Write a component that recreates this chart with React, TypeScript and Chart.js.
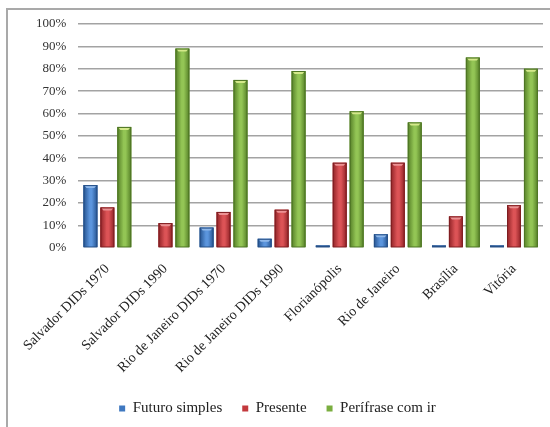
import React, { useEffect, useRef } from "react";
import { Chart, registerables } from "chart.js";

Chart.register(...registerables);

const categories = [
  "Salvador DIDs 1970",
  "Salvador DIDs 1990",
  "Rio de Janeiro DIDs 1970",
  "Rio de Janeiro DIDs 1990",
  "Florianópolis",
  "Rio de Janeiro",
  "Brasília",
  "Vitória",
];
const futuroSimples: (number | null)[] = [28, null, 9, 4, 1, 6, 1, 1];
const presente = [18, 11, 16, 17, 38, 38, 14, 19];
const perifrase = [54, 89, 75, 79, 61, 56, 85, 80];
const yTicks = [0, 10, 20, 30, 40, 50, 60, 70, 80, 90, 100];

const palette = [
  { base: "#3f78c0", dark: "#24528f", light: "#5b95dd", cap: "#8fb8ea", border: "#254f86" },
  { base: "#c3393d", dark: "#8f2226", light: "#dc5356", cap: "#ec9294", border: "#7e1e21" },
  { base: "#7aae3f", dark: "#557f27", light: "#93c555", cap: "#d4e98a", border: "#4d7424" },
];

const gradientBars = {
  id: "gradientBars",
  afterDatasetDraw(chart: any, args: any) {
    const ctx = chart.ctx;
    const meta = args.meta;
    const p = palette[args.index];
    ctx.save();
    meta.data.forEach((el: any) => {
      const { x, y, base, width } = el.getProps(["x", "y", "base", "width"], true);
      if (y == null || isNaN(y) || Math.abs(base - y) < 0.5) return;
      const left = x - width / 2;
      const top = Math.min(y, base);
      const h = Math.abs(base - y);
      const g = ctx.createLinearGradient(left, 0, left + width, 0);
      g.addColorStop(0, p.dark);
      g.addColorStop(0.45, p.light);
      g.addColorStop(0.6, p.light);
      g.addColorStop(1, p.dark);
      ctx.fillStyle = g;
      ctx.fillRect(left, top, width, h);
      const capH = Math.min(3, h / 2);
      ctx.fillStyle = p.cap;
      ctx.beginPath();
      ctx.moveTo(left + 1, top + 0.5);
      ctx.lineTo(left + width - 1, top + 0.5);
      ctx.lineTo(left + width - 3, top + capH);
      ctx.lineTo(left + 3, top + capH);
      ctx.closePath();
      ctx.fill();
      ctx.strokeStyle = p.border;
      ctx.lineWidth = 1;
      ctx.strokeRect(left + 0.5, top + 0.5, width - 1, h - 0.5);
    });
    ctx.restore();
  },
};

const LEGEND_SHIFT = -6;
const legendShift = {
  id: "legendShift",
  afterLayout(chart: any) {
    if (chart.legend) {
      chart.legend.left += LEGEND_SHIFT;
      chart.legend.right += LEGEND_SHIFT;
    }
  },
};

export default function App() {
  const canvasRef = useRef<HTMLCanvasElement | null>(null);

  useEffect(() => {
    if (!canvasRef.current) return;
    const font = "'Liberation Serif', 'Times New Roman', serif";
    const mk = (label: string, data: (number | null)[], i: number) => ({
      label,
      data,
      backgroundColor: palette[i].base,
      borderColor: palette[i].border,
      borderWidth: 0,
      categoryPercentage: 0.875,
      barPercentage: 0.82,
    });
    const chart = new Chart(canvasRef.current, {
      type: "bar",
      data: {
        labels: categories,
        datasets: [
          mk("Futuro simples", futuroSimples, 0),
          mk("Presente", presente, 1),
          mk("Perífrase com ir", perifrase, 2),
        ],
      },
      plugins: [gradientBars, legendShift],
      options: {
        animation: false,
        responsive: false,
        devicePixelRatio: 1,
        layout: { padding: { left: 24, right: 7, top: 24, bottom: 1 } },
        plugins: {
          tooltip: { enabled: false },
          legend: {
            position: "bottom",
            labels: {
              boxWidth: 6,
              boxHeight: 6,
              padding: 20,
              color: "#222",
              font: { family: font, size: 15 },
            },
          },
        },
        scales: {
          x: {
            grid: { display: false },
            border: { display: false },
            ticks: {
              minRotation: 45,
              maxRotation: 45,
              autoSkip: false,
              labelOffset: 0,
              padding: 5,
              color: "#222",
              font: { family: font, size: 14 },
            },
          },
          y: {
            min: 0,
            max: 100,
            afterBuildTicks: (axis: any) => {
              axis.ticks = yTicks.map((v) => ({ value: v }));
            },
            grid: {
              drawTicks: false,
              lineWidth: 1.5,
              color: (c: any) => (c.tick && c.tick.value === 0 ? "rgba(0,0,0,0)" : "#a3a3a3"),
            },
            border: { display: false },
            ticks: {
              padding: 12,
              color: "#333",
              font: { family: font, size: 13 },
              callback: (v: any) => v + "%",
            },
          },
        },
      },
    });
    return () => chart.destroy();
  }, []);

  return (
    <div style={{ position: "fixed", left: 0, top: 0, width: 550, height: 427, background: "#fff", overflow: "hidden" }}>
      <div
        style={{
          position: "absolute",
          left: 6,
          top: 8,
          width: 560,
          height: 440,
          borderTop: "2px solid #a9a9a9",
          borderLeft: "2px solid #a9a9a9",
        }}
      />
      <canvas ref={canvasRef} width={550} height={427} style={{ position: "absolute", left: 0, top: 0 }} />
    </div>
  );
}
